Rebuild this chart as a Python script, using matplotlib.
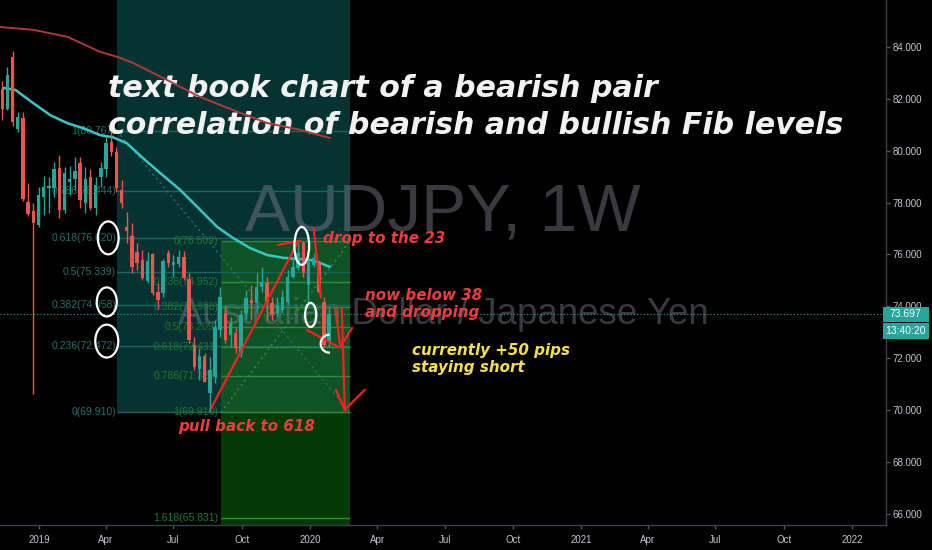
import matplotlib
matplotlib.use("Agg")
import matplotlib.pyplot as plt
import matplotlib.dates as mdates
import matplotlib.transforms as mtransforms
from matplotlib.patches import Rectangle, Ellipse, Arc
from matplotlib.ticker import FuncFormatter
from matplotlib import font_manager
import numpy as np
import pandas as pd

# ---------------- weekly AUDJPY candles ----------------
first_week = "2018-11-12"
opens = [82.39, 81.62, 83.60, 80.85, 81.27, 78.03, 77.68, 77.14, 78.22, 78.55,
         78.57, 79.34, 77.72, 78.80, 78.90, 79.54, 77.99, 79.00, 77.80, 78.99,
         79.30, 80.34, 79.96, 78.50, 77.06, 76.70, 76.10, 75.79, 74.98, 76.00,
         74.55, 74.50, 76.06, 75.60, 75.63, 75.90, 75.06, 72.50, 71.58, 72.08,
         70.66, 71.27, 73.08, 73.75, 72.90, 72.97, 72.20, 73.75, 74.25, 74.13,
         74.75, 74.90, 74.13, 73.74, 73.86, 74.17, 75.13, 75.48, 76.45, 74.83,
         75.60, 75.67, 74.17, 72.62]
highs = [82.70, 83.24, 83.86, 81.50, 81.50, 78.76, 77.98, 78.60, 79.03, 79.00,
         79.57, 79.85, 79.38, 79.40, 79.75, 79.75, 79.38, 79.30, 78.99, 79.57,
         80.53, 80.767, 80.15, 78.88, 77.64, 77.20, 76.44, 76.18, 76.10, 76.06,
         74.90, 75.83, 76.18, 75.98, 76.18, 76.14, 75.30, 72.82, 72.40, 72.20,
         72.05, 73.47, 74.75, 74.05, 73.60, 73.17, 73.86, 74.63, 74.83, 75.29,
         75.52, 75.13, 74.36, 74.36, 74.63, 75.40, 75.90, 76.509, 76.509, 75.90,
         76.06, 75.80, 74.36, 73.97]
lows = [81.20, 81.55, 80.95, 80.73, 78.05, 77.50, 70.62, 77.05, 77.52, 77.60,
        78.20, 77.40, 77.60, 78.30, 78.50, 77.80, 77.60, 77.70, 77.52, 78.60,
        78.99, 79.80, 78.40, 77.80, 76.44, 75.30, 75.40, 75.02, 74.90, 74.44,
        73.90, 74.36, 75.52, 75.13, 75.52, 75.02, 72.60, 71.55, 71.16, 71.08,
        69.91, 71.04, 72.82, 72.60, 72.43, 72.20, 72.05, 73.50, 73.47, 73.74,
        74.55, 73.47, 73.47, 73.59, 73.74, 74.05, 75.10, 75.40, 75.13, 74.13,
        75.52, 74.50, 72.43, 72.43]
closes = [81.62, 82.90, 81.12, 81.31, 78.15, 77.56, 77.22, 78.30, 78.60, 78.62,
          79.30, 77.72, 79.15, 78.90, 79.20, 78.10, 78.92, 77.80, 78.68, 79.34,
          80.30, 79.96, 78.57, 78.00, 76.90, 75.50, 75.67, 75.10, 75.75, 74.50,
          74.25, 75.75, 75.67, 75.71, 75.90, 75.10, 72.70, 71.66, 72.08, 71.10,
          71.55, 73.20, 74.36, 72.70, 73.36, 72.40, 73.67, 74.32, 74.13, 74.75,
          74.94, 74.17, 73.67, 74.05, 74.36, 75.13, 75.50, 76.06, 75.30, 75.70,
          75.85, 74.56, 72.50, 73.697]

# ---------------- moving averages ----------------
ma_fast_dates = ["2018-11-14", "2018-11-30", "2018-12-24", "2019-01-16", "2019-02-08",
                 "2019-03-01", "2019-03-24", "2019-04-10", "2019-04-29", "2019-05-21",
                 "2019-06-13", "2019-07-10", "2019-08-06", "2019-08-29", "2019-09-19",
                 "2019-10-12", "2019-11-04", "2019-11-26", "2020-01-01", "2020-01-15",
                 "2020-01-28"]
ma_fast_values = [82.42, 82.34, 81.83, 81.37, 81.06, 80.87, 80.60, 80.52, 80.29, 79.71,
                  79.14, 78.49, 77.72, 77.06, 76.64, 76.25, 75.98, 75.87, 75.79, 75.67,
                  75.52]
ma_slow_dates = ["2018-11-09", "2018-12-24", "2019-02-08", "2019-03-24", "2019-04-16",
                 "2019-05-07", "2019-06-22", "2019-08-06", "2019-09-19", "2019-11-04",
                 "2019-12-19", "2020-01-28"]
ma_slow_values = [84.77, 84.66, 84.39, 83.81, 83.62, 83.39, 82.73, 82.07, 81.57, 81.07,
                  80.80, 80.49]

# ---------------- fibonacci drawings ----------------
fib_down_ratios = [1, 0.786, 0.618, 0.5, 0.382, 0.236, 0]
fib_down_high, fib_down_low = 80.7672, 69.9102
fib_down_start, fib_down_end = "2019-04-16", "2020-02-24"
fib_up_ratios = [0, 0.236, 0.382, 0.5, 0.618, 0.786, 1, 1.618]
fib_up_high, fib_up_low = 76.5092, 69.9096
fib_up_start, fib_up_end = "2019-09-03", "2020-02-24"

y_ticks = [66, 68, 70, 72, 74, 76, 78, 80, 82, 84]
x_range = ("2018-11-09", "2022-02-16")
y_range = (65.57, 85.81)

# ---------------- fonts ----------------
_names = {f.name for f in font_manager.fontManager.ttflist}


def families(*names):
    return [n for n in names if n in _names] + ["DejaVu Sans"]


NARROW = families("Liberation Sans Narrow", "Liberation Sans")
HAND = ["DejaVu Sans"]
plt.rcParams["font.family"] = NARROW

UP, DOWN = "#26a69a", "#ef5350"
TEAL_FILL, GREEN_FILL, GREEN_DEEP = "#073232", "#0e5225", "#043a06"
TEAL_LINE, GREEN_LINE = "#176661", "#2f8c3c"
TEAL_TXT, GREEN_TXT = "#1f716c", "#207a2c"
PEN_RED, TXT_RED, TXT_YELLOW = "#ff1f1f", "#ee3d3d", "#f4e04d"
WATERMARK = (0.47, 0.48, 0.53, 0.48)


def d(s):
    return mdates.date2num(pd.Timestamp(s))


fig = plt.figure(figsize=(9.32, 5.5), dpi=100, facecolor="black")
ax = fig.add_axes([0, 25 / 550, 886 / 932, 525 / 550])
ax.set_facecolor("black")
ax.set_xlim(d(x_range[0]), d(x_range[1]))
ax.set_ylim(*y_range)

# fib backgrounds
ax.add_patch(Rectangle((d(fib_down_start), fib_down_low), d(fib_down_end) - d(fib_down_start),
                       y_range[1] - fib_down_low + 1, color=TEAL_FILL, lw=0, zorder=0.5))
ax.add_patch(Rectangle((d(fib_up_start), fib_up_low), d(fib_up_end) - d(fib_up_start),
                       fib_up_high - fib_up_low, color=GREEN_FILL, lw=0, zorder=0.6))
ax.add_patch(Rectangle((d(fib_up_start), y_range[0] - 1), d(fib_up_end) - d(fib_up_start),
                       fib_up_low - y_range[0] + 1, color=GREEN_DEEP, lw=0, zorder=0.6))

# watermark
ax.text(0.5, 0.594, "AUDJPY, 1W", transform=ax.transAxes, ha="center", va="center",
        fontsize=48.5, color=WATERMARK, zorder=0.8)
ax.text(0.5, 0.40, "Australian Dollar / Japanese Yen", transform=ax.transAxes, ha="center",
        va="center", fontsize=26.5, color=WATERMARK, zorder=0.8)

# descending fib levels
down_span = fib_down_high - fib_down_low
for r in fib_down_ratios:
    lvl = fib_down_low + r * down_span
    ax.hlines(lvl, d(fib_down_start), d(fib_down_end), colors=TEAL_LINE, lw=1.0, zorder=1)
    ax.text(d(fib_down_start) - 1.5, lvl, f"{r:g}({lvl:.3f})", ha="right", va="center",
            fontsize=7.5, color=TEAL_TXT, zorder=1.2)
ax.plot([d(fib_down_start), d(fib_down_end)], [fib_down_high, fib_down_low],
        ls=(0, (2, 3)), color="#2b7d78", lw=0.8, zorder=1)

# ascending fib levels
up_span = fib_up_high - fib_up_low
for r in fib_up_ratios:
    lvl = fib_up_high - r * up_span
    ax.hlines(lvl, d(fib_up_start), d(fib_up_end), colors=GREEN_LINE, lw=1.0, zorder=1.1)
    ax.text(d(fib_up_start) - 3.5, lvl, f"{r:g}({lvl:.3f})", ha="right", va="center",
            fontsize=7.5, color=GREEN_TXT, zorder=1.2)
ax.plot([d(fib_up_start), d(fib_up_end)], [fib_up_low, fib_up_high],
        ls=(0, (2, 3)), color="#3c9a4a", lw=0.8, zorder=1.1)

# headline text
title_kw = dict(fontsize=21.6, fontweight="bold", fontstyle="italic", color="#f2f2f2",
                family=HAND, va="baseline", ha="left", zorder=2)
ax.text(d("2019-04-03"), 82.07, "text book chart of a bearish pair", **title_kw)
ax.text(d("2019-04-03"), 80.65, "correlation of bearish and bullish Fib levels", **title_kw)

# moving averages
ax.plot(mdates.date2num(pd.to_datetime(ma_slow_dates)), ma_slow_values, color="#ad3a3a",
        lw=1.4, zorder=3, solid_capstyle="round")
ax.plot(mdates.date2num(pd.to_datetime(ma_fast_dates)), ma_fast_values, color="#34c9c6",
        lw=1.8, zorder=3, solid_capstyle="round")

# current price line
ax.axhline(closes[-1], color=UP, ls=(0, (1, 2)), lw=0.8, zorder=2.5)

# candles
xw = mdates.date2num(pd.date_range(first_week, periods=len(opens), freq="7D"))
o, h, l, c = (np.array(v) for v in (opens, highs, lows, closes))
colors = np.where(c >= o, UP, DOWN)
ax.vlines(xw, l, h, colors=colors, lw=1.0, zorder=4)
ax.bar(xw, np.maximum(np.abs(c - o), 0.05), bottom=np.minimum(o, c), width=4.6,
       color=colors, lw=0, zorder=4.1)

# hand-drawn notes
strokes = [
    (("2019-08-21", 70.08), ("2019-12-16", 76.50)),
    (("2019-11-19", 76.37), ("2019-12-19", 76.53)),
    (("2020-01-06", 77.02), ("2020-01-16", 74.33)),
    (("2019-12-28", 73.09), ("2020-02-08", 72.44)),
    (("2020-02-04", 73.94), ("2020-02-11", 72.44)),
    (("2020-02-11", 72.44), ("2020-02-27", 73.17)),
    (("2020-02-13", 73.94), ("2020-02-17", 70.01)),
    (("2020-02-05", 70.78), ("2020-02-17", 70.01)),
    (("2020-02-17", 70.01), ("2020-03-15", 70.78)),
]
for (d0, p0), (d1, p1) in strokes:
    ax.plot([d(d0), d(d1)], [p0, p1], color=PEN_RED, lw=1.6, zorder=6,
            solid_capstyle="round")

loops = [("2019-04-04", 76.64, 28, 1.27), ("2019-04-02", 74.17, 27, 1.12),
         ("2019-04-02", 72.66, 31, 1.27), ("2019-12-21", 76.33, 20, 1.46),
         ("2020-01-02", 73.67, 15, 0.93)]
for dt, p, w, hh in loops:
    ax.add_patch(Ellipse((d(dt), p), w, hh, fill=False, ec="white", lw=1.6, zorder=6))
ax.add_patch(Arc((d("2020-01-27"), 72.56), 23, 0.69, theta1=40, theta2=340,
                 ec="white", lw=1.6, zorder=6))

note_kw = dict(fontsize=10.9, fontweight="bold", fontstyle="italic", family=HAND,
               va="baseline", ha="left", zorder=7)
ax.text(d("2020-01-19"), 76.46, "drop to the 23", color=TXT_RED, **note_kw)
ax.text(d("2020-03-15"), 74.25, "now below 38", color=TXT_RED, **note_kw)
ax.text(d("2020-03-15"), 73.60, "and dropping", color=TXT_RED, **note_kw)
ax.text(d("2019-07-07"), 69.21, "pull back to 618", color=TXT_RED, **note_kw)
ax.text(d("2020-05-18"), 72.13, "currently +50 pips", color=TXT_YELLOW, **note_kw)
ax.text(d("2020-05-18"), 71.47, "staying short", color=TXT_YELLOW, **note_kw)

# axes styling
for s in ("top", "left"):
    ax.spines[s].set_visible(False)
for s in ("right", "bottom"):
    ax.spines[s].set_color("#3c404b")
    ax.spines[s].set_linewidth(1)
ax.yaxis.tick_right()
ax.set_yticks(y_ticks)
ax.yaxis.set_major_formatter(FuncFormatter(lambda v, p: f"{v:.3f}"))
ax.xaxis.set_major_locator(mdates.MonthLocator(bymonth=[1, 4, 7, 10]))


def month_label(v, p):
    dt = mdates.num2date(v)
    return str(dt.year) if dt.month == 1 else dt.strftime("%b")


ax.xaxis.set_major_formatter(FuncFormatter(month_label))
ax.tick_params(axis="both", colors="#50545f", labelcolor="#c3c6ce", length=3, width=1,
               labelsize=7)
ax.tick_params(axis="x", pad=4)
ax.tick_params(axis="y", pad=2)

# last price and countdown tags on the price scale
y_px = ax.transData.transform((ax.get_xlim()[0], closes[-1]))[1]
x_px = ax.bbox.x1
ident = mtransforms.IdentityTransform()
fig.add_artist(Rectangle((x_px - 3, y_px - 7.5), 46, 15, transform=ident, color=UP, lw=0))
fig.add_artist(Rectangle((x_px - 3, y_px - 24.5), 46, 16, transform=ident, color=UP, lw=0))
fig.text(x_px + 19, y_px, f"{closes[-1]:.3f}", transform=ident, ha="center", va="center",
         fontsize=7.5, color="white", family=NARROW)
fig.text(x_px + 19, y_px - 16.5, "13:40:20", transform=ident, ha="center", va="center",
         fontsize=7.5, color="white", family=NARROW)

fig.savefig("out.png", dpi=100, facecolor="black")
